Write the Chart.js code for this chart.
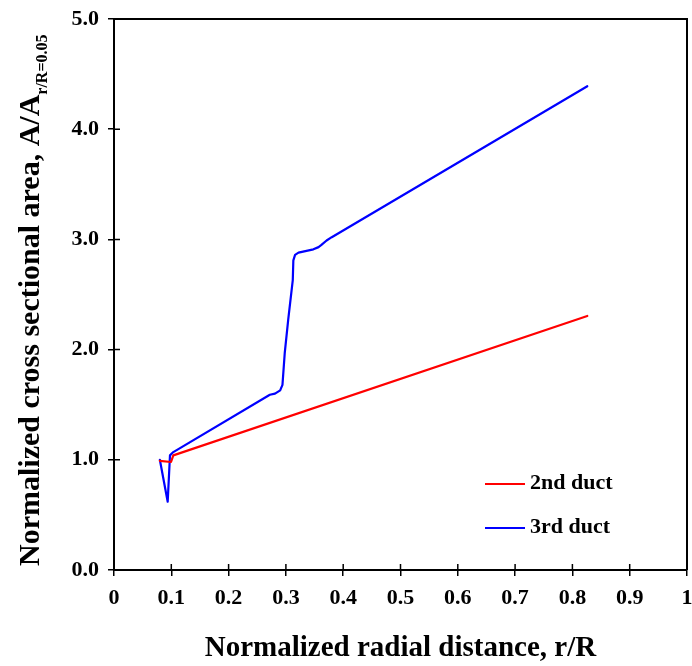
<!DOCTYPE html>
<html>
<head>
<meta charset="utf-8">
<script src="https://cdn.jsdelivr.net/npm/chart.js@4.4.0/dist/chart.umd.min.js"></script>
<style>
  html, body { margin: 0; padding: 0; background: #fff; }
  #wrap { width: 692px; height: 666px; }
</style>
</head>
<body>
<div id="wrap"><canvas id="graph" width="692" height="666"></canvas></div>
<script>
// axis ticks
const xTicks = [0, 0.1, 0.2, 0.3, 0.4, 0.5, 0.6, 0.7, 0.8, 0.9, 1];
const xTickLabels = ['0', '0.1', '0.2', '0.3', '0.4', '0.5', '0.6', '0.7', '0.8', '0.9', '1'];
const yTicks = [0, 1, 2, 3, 4, 5];
const yTickLabels = ['0.0', '1.0', '2.0', '3.0', '4.0', '5.0'];

// 2nd duct: r/R and normalized area
const duct2R = [0.080, 0.0995, 0.1035, 0.826];
const duct2Area = [0.99, 0.98, 1.04, 2.305];

// 3rd duct: r/R and normalized area
const duct3R = [0.080, 0.0937, 0.0977, 0.1035, 0.272, 0.281, 0.290, 0.294, 0.298, 0.304, 0.312, 0.313,
  0.316, 0.322, 0.348, 0.357, 0.362, 0.371, 0.380, 0.826];
const duct3Area = [1.00, 0.62, 1.04, 1.07, 1.59, 1.60, 1.63, 1.68, 1.97, 2.27, 2.63, 2.81,
  2.86, 2.88, 2.91, 2.93, 2.95, 2.99, 3.02, 4.39];

const SERIF = "'Liberation Serif', 'Times New Roman', serif";
const toPoints = (xs, ys) => xs.map((x, i) => ({ x: x, y: ys[i] }));

// top/right frame plus the inner half of every tick mark
const frameTicks = {
  id: 'frameTicks',
  afterDraw(chart) {
    const { ctx, chartArea: a, scales: { x, y } } = chart;
    ctx.save();
    ctx.strokeStyle = '#000';
    ctx.lineWidth = 2;
    ctx.beginPath();
    ctx.moveTo(a.left, a.top);
    ctx.lineTo(a.right, a.top);
    ctx.lineTo(a.right, a.bottom);
    ctx.stroke();
    ctx.lineWidth = 1.5;
    ctx.beginPath();
    x.ticks.forEach(t => {
      const px = x.getPixelForValue(t.value);
      ctx.moveTo(px, a.bottom);
      ctx.lineTo(px, a.bottom - 6);
    });
    y.ticks.forEach(t => {
      const py = y.getPixelForValue(t.value);
      ctx.moveTo(a.left, py);
      ctx.lineTo(a.left + 6, py);
    });
    ctx.stroke();
    ctx.restore();
  }
};

// rotated y title with subscript, starting at the bottom of the plot
const yTitle = {
  id: 'yTitle',
  afterDraw(chart) {
    const { ctx, chartArea: a } = chart;
    const main = 'Normalized cross sectional area, A/A';
    const sub = 'r/R=0.05';
    ctx.save();
    ctx.fillStyle = '#000';
    ctx.textBaseline = 'alphabetic';
    ctx.translate(39, a.bottom - 4);
    ctx.rotate(-Math.PI / 2);
    ctx.font = 'bold 30px ' + SERIF;
    ctx.fillText(main, 0, 0);
    const wMain = ctx.measureText(main).width;
    ctx.font = 'bold 16px ' + SERIF;
    ctx.fillText(sub, wMain, 8);
    ctx.restore();
  }
};

// legend inside the plot area, lower right
const insetLegend = {
  id: 'insetLegend',
  afterDraw(chart) {
    const { ctx, chartArea: a } = chart;
    const x0 = a.left + 371, y0 = a.top + 465, gap = 44;
    ctx.save();
    ctx.font = 'bold 22px ' + SERIF;
    ctx.textBaseline = 'middle';
    ctx.fillStyle = '#000';
    chart.data.datasets.forEach((ds, i) => {
      const yy = y0 + i * gap;
      ctx.strokeStyle = ds.borderColor;
      ctx.lineWidth = 2;
      ctx.beginPath();
      ctx.moveTo(x0, yy);
      ctx.lineTo(x0 + 40, yy);
      ctx.stroke();
      ctx.fillText(ds.label, x0 + 45, yy - 1);
    });
    ctx.restore();
  }
};

new Chart(document.getElementById('graph'), {
  type: 'line',
  data: {
    datasets: [
      {
        label: '2nd duct',
        data: toPoints(duct2R, duct2Area),
        borderColor: '#ff0000',
        borderWidth: 2.2,
        borderJoinStyle: 'round',
        borderCapStyle: 'round',
        pointRadius: 0,
        tension: 0
      },
      {
        label: '3rd duct',
        data: toPoints(duct3R, duct3Area),
        borderColor: '#0000ff',
        borderWidth: 2.2,
        borderJoinStyle: 'round',
        borderCapStyle: 'round',
        pointRadius: 0,
        tension: 0
      }
    ]
  },
  options: {
    responsive: false,
    animation: false,
    layout: { padding: { top: 19, right: 5, left: 0, bottom: 0 } },
    plugins: { legend: { display: false }, tooltip: { enabled: false } },
    scales: {
      x: {
        type: 'linear',
        min: 0,
        max: 1,
        afterBuildTicks: s => { s.ticks = xTicks.map(v => ({ value: v })); },
        afterFit: s => { s.height = 96; s.paddingLeft = 0; s.paddingRight = 0; },
        grid: { drawOnChartArea: false, drawTicks: true, tickLength: 6, color: '#000', lineWidth: 1.5 },
        border: { color: '#000', width: 2 },
        ticks: {
          padding: 9,
          color: '#000',
          font: { family: SERIF, size: 22, weight: 'bold' },
          maxRotation: 0,
          callback: (v, i) => xTickLabels[i]
        },
        title: {
          display: true,
          text: 'Normalized radial distance, r/R',
          color: '#000',
          font: { family: SERIF, size: 29, weight: 'bold' },
          padding: { top: 0, bottom: 0 }
        }
      },
      y: {
        type: 'linear',
        min: 0,
        max: 5,
        afterBuildTicks: s => { s.ticks = yTicks.map(v => ({ value: v })); },
        afterFit: s => { s.width = 114; s.paddingTop = 0; s.paddingBottom = 0; },
        grid: { drawOnChartArea: false, drawTicks: true, tickLength: 6, color: '#000', lineWidth: 1.5 },
        border: { color: '#000', width: 2 },
        ticks: {
          padding: 9,
          color: '#000',
          font: { family: SERIF, size: 22, weight: 'bold' },
          callback: (v, i) => yTickLabels[i]
        }
      }
    }
  },
  plugins: [frameTicks, yTitle, insetLegend]
});
</script>
</body>
</html>
